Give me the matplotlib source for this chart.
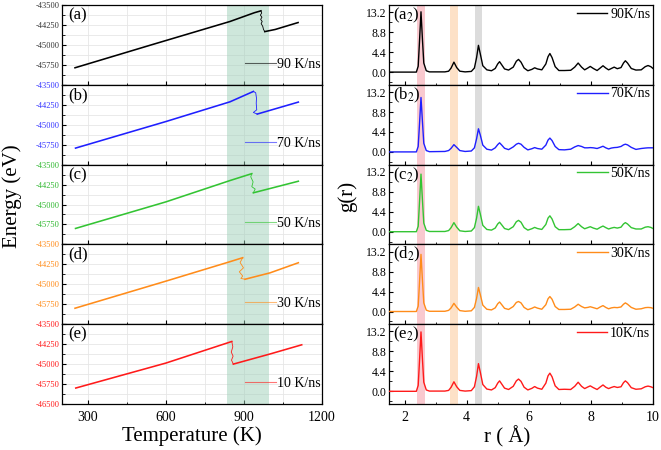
import matplotlib
matplotlib.use('Agg')
import matplotlib.pyplot as plt
from matplotlib.ticker import MultipleLocator

plt.rcParams['font.family'] = ['Liberation Serif', 'DejaVu Serif']
plt.rcParams['mathtext.fontset'] = 'stix'
plt.rcParams['axes.unicode_minus'] = False

# ---------------- Left: Energy vs Temperature ----------------
rates_left = ['90 K/ns', '70 K/ns', '50 K/ns', '30 K/ns', '10 K/ns']
panel_left = ['(a)', '(b)', '(c)', '(d)', '(e)']
colors = ['#000000', '#1f1fff', '#33c433', '#ff8c1a', '#ff1a1a']
tick_colors = ['#333333', '#3333ff', '#2fb82f', '#ff8c1a', '#ff1a1a']

# heating branch
T_heat_a = [250, 550, 846, 940, 965]
E_heat_a = [-45860, -44980, -44120, -43790, -43720]
T_heat_b = [252, 600, 846, 936]
E_heat_b = [-45880, -44880, -44140, -43750]
T_heat_c = [252, 600, 846, 930]
E_heat_c = [-45900, -44900, -44100, -43840]
T_heat_d = [250, 600, 846, 895]
E_heat_d = [-45900, -44880, -44150, -44000]
T_heat_e = [253, 600, 853]
E_heat_e = [-45900, -44960, -44150]

# transition (wiggly drop)
T_tr_a = [965, 968, 963, 969, 964, 970, 966, 972, 975, 980]
E_tr_a = [-43720, -43800, -43880, -43960, -44040, -44120, -44200, -44300, -44420, -44500]
T_tr_b = [936, 945, 948, 947, 949, 936, 951]
E_tr_b = [-43750, -43800, -44000, -44200, -44440, -44540, -44600]
T_tr_c = [930, 926, 935, 930, 943, 936]
E_tr_c = [-43840, -43960, -44150, -44330, -44420, -44560]
T_tr_d = [895, 885, 898, 882, 895, 888, 904]
E_tr_d = [-44000, -44180, -44380, -44530, -44690, -44780, -44810]
T_tr_e = [853, 857, 851, 858, 852, 859]
E_tr_e = [-44150, -44350, -44550, -44700, -44850, -45000]

# branch after transition
T_post_a = [980, 1020, 1108]
E_post_a = [-44500, -44420, -44160]
T_post_b = [951, 1109]
E_post_b = [-44600, -44150]
T_post_c = [936, 1109]
E_post_c = [-44560, -44125]
T_post_d = [904, 1000, 1109]
E_post_d = [-44810, -44570, -44190]
T_post_e = [859, 1000, 1122]
E_post_e = [-45000, -44620, -44275]

heat = [(T_heat_a, E_heat_a), (T_heat_b, E_heat_b), (T_heat_c, E_heat_c), (T_heat_d, E_heat_d), (T_heat_e, E_heat_e)]
trans = [(T_tr_a, E_tr_a), (T_tr_b, E_tr_b), (T_tr_c, E_tr_c), (T_tr_d, E_tr_d), (T_tr_e, E_tr_e)]
post = [(T_post_a, E_post_a), (T_post_b, E_post_b), (T_post_c, E_post_c), (T_post_d, E_post_d), (T_post_e, E_post_e)]

energy_ticks = [-46500, -45750, -45000, -44250, -43500]
temp_ticks = [300, 600, 900, 1200]
shade_T = (835, 995)

# ---------------- Right: g(r) ----------------
rates_right = ['90K/ns', '70K/ns', '50K/ns', '30K/ns', '10K/ns']
panel_right = ['(a$_2$)', '(b$_2$)', '(c$_2$)', '(d$_2$)', '(e$_2$)']
r_vals = [1.5, 2.38, 2.44, 2.48, 2.53, 2.58, 2.62, 2.70, 2.80, 3.30, 3.42, 3.50, 3.59, 3.68,
          3.78, 3.95, 4.15, 4.25, 4.32, 4.38, 4.44, 4.52, 4.65, 4.80, 4.92, 5.00, 5.06, 5.13,
          5.22, 5.35, 5.50, 5.60, 5.67, 5.75, 5.85, 5.97, 6.10, 6.19, 6.28, 6.42, 6.55, 6.62,
          6.68, 6.75, 6.85, 6.97, 7.15, 7.35, 7.48, 7.59, 7.70, 7.80, 7.90, 7.98, 8.08, 8.20,
          8.30, 8.39, 8.48, 8.57, 8.66, 8.75, 8.85, 8.97, 9.05, 9.11, 9.18, 9.30, 9.45, 9.62,
          9.75, 9.84, 9.93, 10.0]
g_90 = [0, 0, 1.3, 6.5, 13.3, 6.8, 2.0, 0.3, 0.05, 0.05, 0.2, 0.9, 2.2, 1.0,
        0.2, 0.05, 0.15, 0.9, 3.2, 5.9, 4.0, 1.4, 0.5, 0.3, 0.8, 1.8, 2.3, 1.6,
        0.7, 0.45, 1.1, 2.4, 2.8, 2.2, 0.9, 0.3, 0.6, 0.95, 0.7, 0.5, 1.8, 3.4,
        4.1, 3.2, 1.2, 0.35, 0.35, 0.4, 1.1, 2.0, 1.1, 0.5, 0.9, 1.25, 0.8, 0.35,
        0.9, 1.4, 0.9, 0.5, 0.8, 1.1, 0.75, 1.0, 2.0, 2.5, 2.0, 0.8, 0.45, 0.5,
        1.2, 1.45, 1.2, 0.8]
g_70 = [0, 0, 1.2, 5.9, 12.0, 6.3, 1.9, 0.3, 0.05, 0.1, 0.3, 0.8, 1.6, 1.0,
        0.3, 0.1, 0.2, 0.9, 2.9, 5.1, 3.7, 1.5, 0.6, 0.4, 0.9, 1.6, 2.0, 1.5,
        0.8, 0.5, 1.1, 1.7, 1.9, 1.7, 1.0, 0.45, 0.7, 0.95, 0.75, 0.6, 1.5, 2.6,
        3.05, 2.5, 1.2, 0.5, 0.45, 0.6, 1.1, 1.4, 1.2, 0.9, 0.9, 0.95, 0.9, 0.75,
        1.0, 1.25, 0.9, 0.65, 0.85, 0.95, 1.0, 1.2, 1.55, 1.7, 1.55, 1.0, 0.55, 0.75,
        0.85, 0.9, 0.9, 0.9]
g_50 = [0, 0, 1.2, 6.2, 12.7, 6.6, 1.9, 0.3, 0.05, 0.05, 0.25, 0.9, 2.0, 1.0,
        0.2, 0.05, 0.15, 0.9, 3.0, 5.6, 3.9, 1.4, 0.5, 0.35, 0.8, 1.7, 2.1, 1.5,
        0.7, 0.45, 1.1, 2.2, 2.5, 2.1, 0.9, 0.35, 0.65, 0.95, 0.7, 0.5, 1.6, 3.0,
        3.5, 2.8, 1.1, 0.45, 0.45, 0.5, 1.1, 1.8, 1.1, 0.65, 0.9, 1.1, 0.8, 0.55,
        0.95, 1.25, 0.9, 0.6, 0.8, 0.95, 0.8, 1.0, 1.7, 2.0, 1.7, 0.9, 0.6, 0.6,
        1.0, 1.1, 0.95, 0.7]
g_30 = [0, 0, 1.2, 6.1, 12.6, 6.5, 1.9, 0.3, 0.05, 0.05, 0.25, 0.8, 1.8, 0.95,
        0.2, 0.05, 0.15, 0.9, 2.9, 5.3, 3.7, 1.4, 0.5, 0.35, 0.8, 1.7, 2.1, 1.5,
        0.7, 0.45, 1.1, 2.0, 2.2, 1.9, 0.9, 0.4, 0.7, 1.0, 0.75, 0.5, 1.5, 2.8,
        3.3, 2.7, 1.1, 0.45, 0.45, 0.5, 1.0, 1.6, 1.1, 0.8, 0.9, 1.05, 0.85, 0.6,
        1.0, 1.3, 0.9, 0.6, 0.8, 0.9, 0.85, 1.0, 1.6, 1.9, 1.6, 0.9, 0.5, 0.6,
        0.85, 0.9, 0.85, 0.7]
g_10 = [0, 0, 1.3, 6.4, 13.1, 6.7, 2.0, 0.3, 0.05, 0.05, 0.2, 0.9, 2.1, 1.0,
        0.2, 0.05, 0.15, 1.0, 3.3, 6.1, 4.2, 1.5, 0.5, 0.3, 0.8, 1.8, 2.3, 1.6,
        0.7, 0.4, 1.1, 2.3, 2.7, 2.2, 0.9, 0.3, 0.65, 1.05, 0.7, 0.45, 1.8, 3.4,
        4.0, 3.2, 1.2, 0.4, 0.45, 0.4, 1.1, 2.0, 1.1, 0.6, 0.95, 1.2, 0.8, 0.4,
        0.95, 1.4, 0.9, 0.6, 0.85, 1.05, 0.85, 1.0, 1.9, 2.3, 1.9, 0.8, 0.45, 0.55,
        1.0, 1.15, 1.0, 0.8]
g_all = [g_90, g_70, g_50, g_30, g_10]
g_ticks = [0.0, 4.4, 8.8, 13.2]
bands = [(2.41, 2.66, '#f9c9cf'), (3.46, 3.71, '#fde1c7'), (4.26, 4.51, '#dcdcdc')]

fig = plt.figure(figsize=(6.61, 4.5), dpi=100)
W, H = 661.0, 450.0
top = 1 - 5 / H
bottom = 1 - 404 / H
h = (top - bottom) / 5

for i in range(5):
    y0 = top - (i + 1) * h
    # ---- left panel ----
    ax = fig.add_axes([62 / W, y0, 260 / W, h])
    ax.set_xlim(200, 1200)
    ax.set_ylim(-46500, -43500)
    ax.axvspan(shade_T[0], shade_T[1], color='#9fd0b9', alpha=0.5, lw=0, zorder=0.6)
    ax.set_axisbelow(True)
    ax.grid(True, which='both', color='#e6e6e6', lw=0.6, zorder=0.5)
    ax.plot(*heat[i], color=colors[i], lw=1.15, zorder=3, label=rates_left[i])
    ax.plot(*trans[i], color=colors[i], lw=0.6, zorder=3)
    ax.plot(*post[i], color=colors[i], lw=1.15, zorder=3)
    ax.set_yticks(energy_ticks)
    labs = [str(v) for v in energy_ticks]
    if i < 4:
        labs[0] = ''
    ax.set_yticklabels(labs)
    ax.yaxis.set_minor_locator(MultipleLocator(375))
    ax.set_xticks(temp_ticks)
    ax.xaxis.set_minor_locator(MultipleLocator(150))
    ax.tick_params(axis='both', which='both', direction='in', top=False, right=False)
    ax.tick_params(which='major', length=3, width=0.8)
    ax.tick_params(which='minor', length=1.8, width=0.6)
    ax.tick_params(axis='y', labelsize=6, labelcolor=tick_colors[i], pad=2)
    ax.tick_params(axis='x', labelsize=10, pad=5)
    if i < 4:
        ax.tick_params(labelbottom=False)
    for s in ax.spines.values():
        s.set_linewidth(0.9)
    ax.text(0.025, 0.87, panel_left[i], transform=ax.transAxes, fontsize=12,
            va='center', ha='left')
    leg = ax.legend(loc='center right', bbox_to_anchor=(1.0, 0.26), frameon=False,
                    fontsize=10, handlelength=2.2, handletextpad=0.1,
                    borderaxespad=0, borderpad=0.1)
    for ln in leg.get_lines():
        ln.set_linewidth(0.8)
        ln.set_alpha(0.6)

    # ---- right panel ----
    axr = fig.add_axes([389 / W, y0, 264 / W, h])
    axr.set_xlim(1.5, 10)
    axr.set_ylim(-2.8, 14.8)
    for a, b, c in bands:
        axr.axvspan(a, b, color=c, lw=0, zorder=0.5)
    axr.plot(r_vals, g_all[i], color=colors[i], lw=1.0, zorder=3, label=rates_right[i])
    axr.set_yticks(g_ticks)
    axr.set_yticklabels(['%.1f' % v for v in g_ticks])
    axr.yaxis.set_minor_locator(MultipleLocator(2.2))
    axr.set_xticks([2, 4, 6, 8, 10])
    axr.xaxis.set_minor_locator(MultipleLocator(1))
    axr.tick_params(axis='both', which='both', direction='in', top=False, right=False)
    axr.tick_params(which='major', length=3, width=0.8)
    axr.tick_params(which='minor', length=1.8, width=0.6)
    axr.tick_params(axis='y', labelsize=8.5, pad=2)
    axr.tick_params(axis='x', labelsize=10, pad=5)
    if i < 4:
        axr.tick_params(labelbottom=False)
    for s in axr.spines.values():
        s.set_linewidth(0.9)
    axr.text(0.015, 0.87, panel_right[i], transform=axr.transAxes, fontsize=12,
             va='center', ha='left')
    axr.legend(loc='center right', bbox_to_anchor=(0.995, 0.885), frameon=False,
               fontsize=10, handlelength=2.2, handletextpad=0.2,
               borderaxespad=0, borderpad=0.1)

fig.text(12 / W, 1 - 196 / H, 'Energy (eV)', rotation=90, fontsize=15,
         ha='center', va='center')
fig.text(192 / W, 1 - 436 / H, 'Temperature (K)', fontsize=15, ha='center', va='center')
fig.text(347 / W, 1 - 196 / H, 'g(r)', rotation=90, fontsize=15, ha='center', va='center')
fig.text(507 / W, 1 - 437 / H, 'r ( Å)', fontsize=15, ha='center', va='center')

fig.savefig('out.png', dpi=100)
